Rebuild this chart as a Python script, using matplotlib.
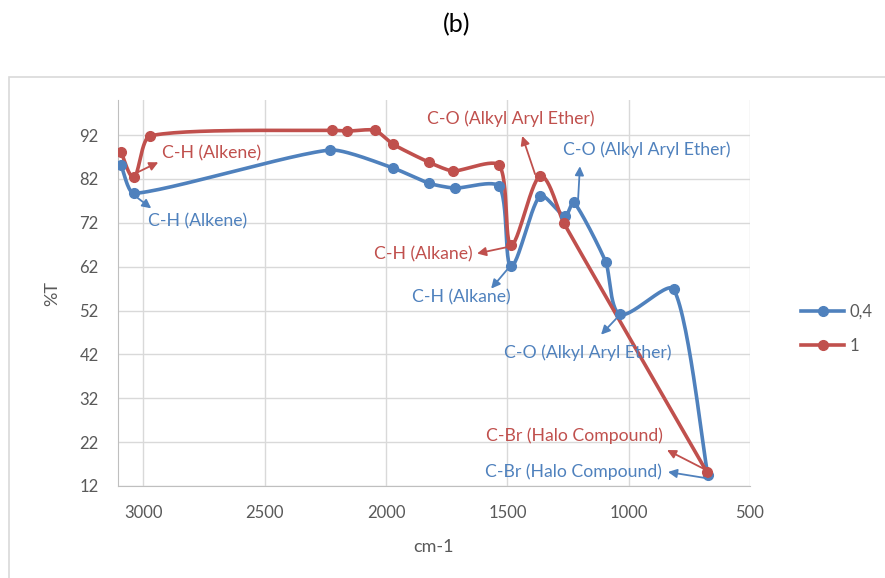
import numpy as np
import matplotlib
matplotlib.use("Agg")
import matplotlib.pyplot as plt
from matplotlib.patches import Rectangle
from matplotlib.lines import Line2D

plt.rcParams['font.family'] = ['Lato', 'DejaVu Sans']

# data (wavenumber cm-1, %T)
wn_04 = [3092, 3038, 2231, 1971, 1823, 1716, 1534, 1485, 1366, 1263, 1226, 1094, 1036, 814, 674]
t_04 = [85.1, 78.7, 88.6, 84.5, 81.0, 79.9, 80.3, 62.1, 78.1, 73.5, 76.7, 63.0, 51.1, 56.8, 14.5]

wn_1 = [3092, 3038, 2973, 2222, 2161, 2046, 1971, 1823, 1724, 1534, 1485, 1366, 1267, 678]
t_1 = [88.1, 82.4, 91.8, 93.1, 92.9, 93.1, 89.9, 85.8, 83.8, 85.1, 66.9, 82.6, 71.9, 15.2]

series_names = ['0,4', '1']
blue = '#4F81BD'
red = '#C0504D'

x_ticks = [3000, 2500, 2000, 1500, 1000, 500]
y_ticks = [12, 22, 32, 42, 52, 62, 72, 82, 92]

# (label, colour, arrow tail, arrow head, text pos, alignment)
notes = [
    ('C-H (Alkene)', red, (3025, 83.5), (2939, 85.8), (2925, 87.9), 'left'),
    ('C-H (Alkene)', blue, (3034, 78.1), (2968, 75.3), (2980, 72.3), 'left'),
    ('C-H (Alkane)', red, (1506, 66.4), (1625, 65.0), (1645, 64.8), 'right'),
    ('C-H (Alkane)', blue, (1500, 61.4), (1567, 57.0), (1691, 55.0), 'center'),
    ('C-O (Alkyl Aryl Ether)', red, (1386, 83.1), (1439, 91.8), (1485, 95.7), 'center'),
    ('C-O (Alkyl Aryl Ether)', blue, (1209, 76.9), (1201, 84.9), (925, 88.6), 'center'),
    ('C-O (Alkyl Aryl Ether)', blue, (1044, 50.6), (1114, 46.5), (1167, 42.4), 'center'),
    ('C-Br (Halo Compound)', red, (690, 15.9), (842, 20.2), (1222, 23.4), 'center'),
    ('C-Br (Halo Compound)', blue, (682, 13.8), (838, 15.2), (1226, 15.2), 'center'),
]

XMIN, XMAX = 3105, 500
YMIN, YMAX = 12, 100


def smooth(xs, ys, w=632, h=386, n=30, f=0.2):
    # smoothed line like excel: catmull-rom bezier in pixel space,
    # control arms clamped to a share of the segment so it doesn't overshoot much
    px = (XMIN - np.array(xs, float)) / (XMIN - XMAX) * w
    py = (np.array(ys, float) - YMIN) / (YMAX - YMIN) * h
    pts = np.column_stack([px, py])
    ext = np.vstack([pts[0], pts, pts[-1]])
    out = [pts[0]]
    t = np.linspace(0, 1, n)[1:, None]
    for i in range(1, len(ext) - 2):
        p0, p1, p2, p3 = ext[i - 1], ext[i], ext[i + 1], ext[i + 2]
        L = np.hypot(*(p2 - p1))
        a1 = (p2 - p0) / 6
        a2 = (p3 - p1) / 6
        for a in (a1, a2):
            la = np.hypot(*a)
            if la > f * L:
                a *= f * L / la
        c1 = p1 + a1
        c2 = p2 - a2
        seg = ((1 - t) ** 3) * p1 + 3 * ((1 - t) ** 2) * t * c1 + 3 * (1 - t) * t ** 2 * c2 + t ** 3 * p2
        out.extend(seg)
    out = np.array(out)
    return XMIN - out[:, 0] / w * (XMIN - XMAX), YMIN + out[:, 1] / h * (YMAX - YMIN)


fig = plt.figure(figsize=(8.85, 5.78), dpi=100)
ax = fig.add_axes([118 / 885, 92 / 578, 632 / 885, 386 / 578])

fig.patches.append(Rectangle((9, -5), 900, 506, transform=None, fill=False,
                             edgecolor='#D9D9D9', linewidth=1.2))

for xs, ys, c in [(wn_04, t_04, blue), (wn_1, t_1, red)]:
    sx, sy = smooth(xs, ys)
    ax.plot(sx, sy, color=c, lw=2.6, solid_capstyle='round', zorder=3)
    ax.plot(xs, ys, 'o', color=c, ms=7, zorder=4)

for label, c, tail, head, txt, ha in notes:
    ax.annotate('', xy=head, xytext=tail,
                arrowprops=dict(arrowstyle='-|>', color=c, lw=1.3, mutation_scale=13,
                                shrinkA=0, shrinkB=0), zorder=5)
    ax.text(txt[0], txt[1], label, color=c, ha=ha, va='center', fontsize=12.7, zorder=5)

ax.set_xlim(XMIN, XMAX)
ax.set_ylim(YMIN, YMAX)
ax.set_xticks(x_ticks)
ax.set_yticks(y_ticks)
ax.grid(True, color='#D9D9D9', lw=1)
ax.set_axisbelow(True)
for s in ['top', 'right']:
    ax.spines[s].set_visible(False)
for s in ['left', 'bottom']:
    ax.spines[s].set_color('#BFBFBF')
ax.tick_params(length=0, colors='#595959', labelsize=12)
ax.tick_params(axis='y', pad=14)
ax.tick_params(axis='x', pad=14)

ax.set_xlabel('cm-1', color='#595959', fontsize=13, labelpad=13)
ax.set_ylabel('%T', color='#595959', fontsize=13, labelpad=14)

fig.text(457 / 885, 1 - 25 / 578, '(b)', ha='center', va='center', fontsize=18, color='black')

handles = [Line2D([], [], color=blue, lw=2.6, marker='o', ms=7),
           Line2D([], [], color=red, lw=2.6, marker='o', ms=7)]
fig.legend(handles, series_names, loc='center left', bbox_to_anchor=(786 / 885, 1 - 329 / 578),
           frameon=False, fontsize=12, labelcolor='#595959', handlelength=2.6,
           handletextpad=0.3, labelspacing=1.1)

fig.savefig('out.png', dpi=100)
